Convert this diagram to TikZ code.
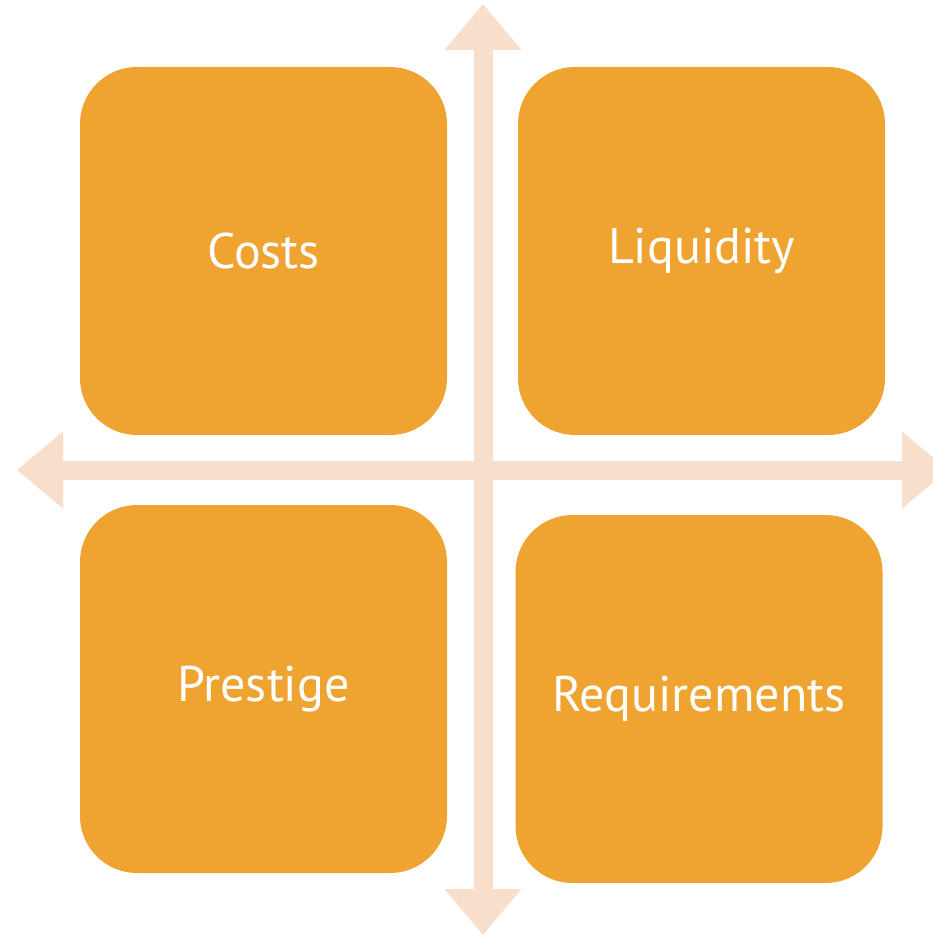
\documentclass[tikz,border=0pt]{standalone}
\usepackage{fontspec}
\setmainfont{PT Sans}
\usetikzlibrary{arrows.meta}

\definecolor{boxorange}{RGB}{239,163,49}
\definecolor{axispeach}{RGB}{248,223,203}

\tikzset{
  quad/.style={fill=boxorange, rounded corners=57pt, minimum width=367pt, minimum height=368pt,
    inner sep=0pt, text=white, font=\fontsize{50}{60}\selectfont},
  axis/.style={draw=axispeach, line width=19pt,
    {Triangle[width=74pt,length=46pt]}-{Triangle[width=74pt,length=46pt]}}
}

\begin{document}
\begin{tikzpicture}[x=1pt, y=-1pt]
\clip (0,0) rectangle (933,936);
\fill[white] (0,0) rectangle (933,936);

\coordinate (V_top) at (483,4);
\coordinate (V_bot) at (483,935);
\coordinate (H_left) at (17,470);
\coordinate (H_right) at (948,470);

\draw[axis](V_top) to (V_bot);
\draw[axis](H_left) to (H_right);

\node[quad](Q1) at (263.5,251) {Costs};
\node[quad](Q2) at (701.5,251) {Liquidity};
\node[quad](Q3) at (263.5,689) {Prestige};
\node[quad](Q4) at (699,699) {Requirements};
\end{tikzpicture}
\end{document}
